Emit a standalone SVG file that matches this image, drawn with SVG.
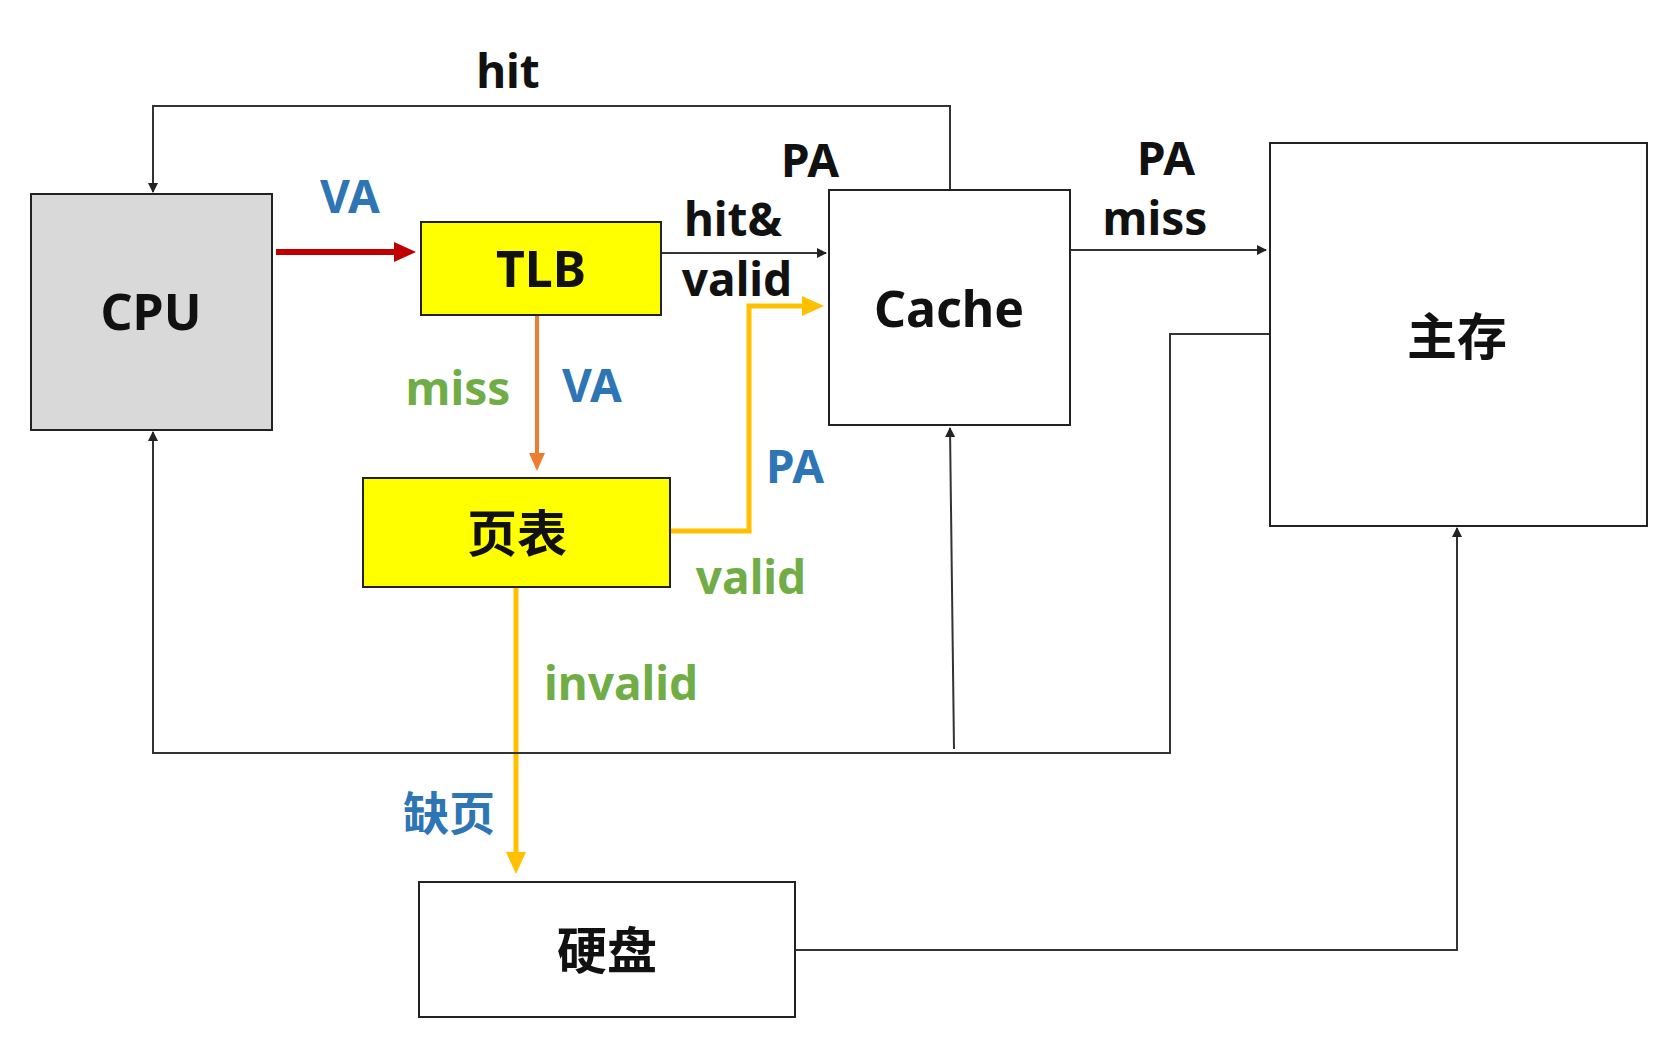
<svg xmlns="http://www.w3.org/2000/svg" width="1675" height="1038" viewBox="0 0 1675 1038">
<style>
.box{stroke:#222;stroke-width:2}
text{font-family:"Noto Sans","Noto Sans CJK SC",sans-serif;font-weight:bold;text-anchor:middle;dominant-baseline:central}
.n{font-size:50px;fill:#111}
.l{font-size:46px}
.k{fill:#111}.b{fill:#2E75B6}.g{fill:#70AD47}
.thin{fill:none;stroke:#333;stroke-width:2}
</style>
<defs>
<marker id="ak" markerWidth="10" markerHeight="10" refX="9" refY="5" orient="auto" markerUnits="userSpaceOnUse"><path d="M0,0L10,5L0,10z" fill="#222"/></marker>
<marker id="ar" markerWidth="24" markerHeight="24" refX="2" refY="12" orient="auto" markerUnits="userSpaceOnUse"><path d="M0,2L22,12L0,22z" fill="#C00000"/></marker>
<marker id="ao" markerWidth="20" markerHeight="20" refX="2" refY="10" orient="auto" markerUnits="userSpaceOnUse"><path d="M0,2L18,10L0,18z" fill="#ED7D31"/></marker>
<marker id="ay" markerWidth="24" markerHeight="24" refX="2" refY="12" orient="auto" markerUnits="userSpaceOnUse"><path d="M0,2L22,12L0,22z" fill="#FFC000"/></marker>
</defs>
<g id="connectors">
<path d="M276,252H396" stroke="#C00000" stroke-width="6" fill="none" marker-end="url(#ar)"/>
<path class="thin" d="M950,190V106H153V192" marker-end="url(#ak)"/>
<path class="thin" d="M661,253H826" marker-end="url(#ak)"/>
<path class="thin" d="M1070,250H1266" marker-end="url(#ak)"/>
<path d="M537,315V455" stroke="#ED7D31" stroke-width="4" fill="none" marker-end="url(#ao)"/>
<path d="M670,531H749V306H804" stroke="#FFC000" stroke-width="5" fill="none" marker-end="url(#ay)"/>
<path d="M516,587V854" stroke="#FFC000" stroke-width="5" fill="none" marker-end="url(#ay)"/>
<path class="thin" d="M1270,334H1170V753H153V432" marker-end="url(#ak)"/>
<path class="thin" d="M954,749L950,428" marker-end="url(#ak)"/>
<path class="thin" d="M795,950H1457V528" marker-end="url(#ak)"/>
</g>
<g id="cpu"><rect class="box" x="31" y="194" width="241" height="236" fill="#D9D9D9"/><text class="n" x="151" y="311">CPU</text></g>
<g id="tlb"><rect class="box" x="421" y="222" width="240" height="93" fill="#FFFF00"/><text class="n" x="541" y="268">TLB</text></g>
<g id="cache"><rect class="box" x="829" y="190" width="241" height="235" fill="#fff"/><text class="n" x="949" y="308">Cache</text></g>
<g id="mem"><rect class="box" x="1270" y="143" width="377" height="383" fill="#fff"/><text class="n" x="1457" y="336">主存</text></g>
<g id="pt"><rect class="box" x="363" y="478" width="307" height="109" fill="#FFFF00"/><text class="n" x="517" y="533">页表</text></g>
<g id="disk"><rect class="box" x="419" y="882" width="376" height="135" fill="#fff"/><text class="n" x="607" y="950">硬盘</text></g>
<g id="labels">
<text class="l k" x="508" y="70">hit</text>
<text class="l b" x="350" y="195">VA</text>
<text class="l k" x="810" y="159">PA</text>
<text class="l k" x="733" y="218" font-size="42">hit&amp;</text>
<text class="l k" x="737" y="278" font-size="42">valid</text>
<text class="l k" x="1166" y="157">PA</text>
<text class="l k" x="1155" y="217">miss</text>
<text class="l g" x="458" y="387">miss</text>
<text class="l b" x="592" y="384">VA</text>
<text class="l b" x="795" y="465">PA</text>
<text class="l g" x="751" y="576">valid</text>
<text class="l g" x="621" y="682">invalid</text>
<text class="l b" x="449" y="812">缺页</text>
</g>
</svg>
